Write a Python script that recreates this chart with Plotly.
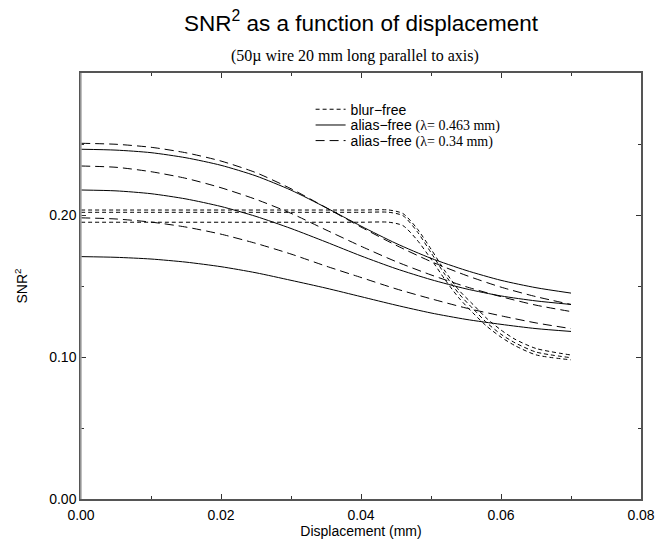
import plotly.graph_objects as go

# ---- data ----
x_alias = [0.0, 0.005, 0.01, 0.015, 0.02, 0.025, 0.03, 0.035, 0.04, 0.045, 0.05, 0.055, 0.06, 0.065, 0.07]

solid_1 = [0.2463, 0.2457, 0.2439, 0.2403, 0.2350, 0.2275, 0.2175, 0.2052, 0.1922, 0.1800, 0.1695, 0.1610, 0.1540, 0.1488, 0.1450]
solid_2 = [0.2176, 0.2170, 0.2150, 0.2113, 0.2060, 0.1990, 0.1905, 0.1810, 0.1712, 0.1622, 0.1545, 0.1480, 0.1430, 0.1395, 0.1370]
solid_3 = [0.1707, 0.1702, 0.1690, 0.1668, 0.1636, 0.1593, 0.1540, 0.1485, 0.1425, 0.1365, 0.1310, 0.1265, 0.1230, 0.1200, 0.1180]

dash_1 = [0.2505, 0.2498, 0.2477, 0.2438, 0.2380, 0.2298, 0.2185, 0.2052, 0.1915, 0.1787, 0.1672, 0.1575, 0.1492, 0.1425, 0.1370]
dash_2 = [0.2345, 0.2336, 0.2305, 0.2258, 0.2192, 0.2110, 0.2012, 0.1895, 0.1780, 0.1672, 0.1578, 0.1495, 0.1425, 0.1365, 0.1320]
dash_3 = [0.1980, 0.1972, 0.1950, 0.1915, 0.1865, 0.1800, 0.1725, 0.1640, 0.1560, 0.1480, 0.1410, 0.1345, 0.1290, 0.1240, 0.1200]

x_blur = [0.0, 0.01, 0.02, 0.03, 0.04, 0.044, 0.046, 0.048, 0.050, 0.052, 0.054, 0.056, 0.058, 0.060, 0.062, 0.065, 0.070]
blur_1 = [0.2035, 0.2035, 0.2035, 0.2035, 0.2035, 0.2035, 0.2010, 0.1905, 0.1760, 0.1605, 0.1470, 0.1370, 0.1270, 0.1190, 0.1125, 0.1060, 0.1014]
blur_2 = [0.2019, 0.2019, 0.2019, 0.2019, 0.2019, 0.2019, 0.1995, 0.1885, 0.1735, 0.1580, 0.1445, 0.1340, 0.1240, 0.1160, 0.1100, 0.1035, 0.0995]
blur_3 = [0.1949, 0.1949, 0.1949, 0.1949, 0.1949, 0.1949, 0.1925, 0.1825, 0.1690, 0.1545, 0.1415, 0.1310, 0.1215, 0.1140, 0.1080, 0.1015, 0.0980]

x_ticks = [0.00, 0.02, 0.04, 0.06, 0.08]
y_ticks = [0.00, 0.10, 0.20]

legend_names = [
    "blur\u2212free",
    "alias\u2212free <span style=\"font-family:'Liberation Serif'\">(\u03bb= 0.463 mm)</span>",
    "alias\u2212free <span style=\"font-family:'Liberation Serif'\">(\u03bb= 0.34 mm)</span>",
]

SANS = "Liberation Sans, Arial, sans-serif"
SERIF = "Liberation Serif, Times New Roman, serif"

fig = go.Figure()

def add(xs, ys, dash, name, show, legend):
    fig.add_trace(go.Scatter(
        x=xs, y=ys, mode="lines", name=name, showlegend=show,
        legendgroup=name, legend=legend, hoverinfo="skip",
        line=dict(color="black", width=1, dash=dash, shape="spline", smoothing=0.7),
    ))

for i, b in enumerate([blur_1, blur_2, blur_3]):
    add(x_blur, b, "4px,3px", legend_names[0], i == 0, "legend")
for i, s in enumerate([solid_1, solid_2, solid_3]):
    add(x_alias, s, "solid", legend_names[1], i == 0, "legend2")
for i, d in enumerate([dash_1, dash_2, dash_3]):
    add(x_alias, d, "9px,5px", legend_names[2], i == 0, "legend3")

axis_common = dict(
    showgrid=False, zeroline=False, showline=True, linecolor="#555555", linewidth=1.5,
    mirror="ticks", ticks="inside", ticklen=5, tickcolor="#333333", tickwidth=1,
    tickfont=dict(family=SANS, size=14, color="black"), automargin=False,
    minor=dict(ticks="inside", ticklen=3, tickcolor="#333333", tickwidth=1),
)

fig.update_xaxes(
    range=[0, 0.08], tickvals=x_ticks, tickformat=".2f",
    minor_dtick=0.01, ticklabelstandoff=2,
    title=dict(text="Displacement (mm)", font=dict(family=SANS, size=14, color="black"), standoff=4),
    **axis_common,
)
fig.update_yaxes(
    range=[0, 0.3], tickvals=y_ticks, tickformat=".2f",
    minor_dtick=0.05,
    title=dict(text="SNR<sup>2</sup>", font=dict(family=SANS, size=14, color="black"), standoff=18),
    **axis_common,
)

leg = dict(x=0.41, xanchor="left", yanchor="middle", bgcolor="rgba(0,0,0,0)",
           font=dict(family=SANS, size=14, color="black"), itemwidth=30)

fig.update_layout(
    width=669, height=542,
    margin=dict(l=81, r=28, t=73, b=43),
    paper_bgcolor="white", plot_bgcolor="white",
    title=dict(text="SNR<sup>2</sup> as a function of displacement", x=0.5, xref="paper",
               y=0.9576, yanchor="middle",
               font=dict(family=SANS, size=22.5, color="black")),
    legend=dict(y=0.914, **leg),
    legend2=dict(y=0.877, **leg),
    legend3=dict(y=0.8404, **leg),
    annotations=[dict(text="(50\u00b5 wire 20 mm long parallel to axis)", xref="paper", yref="paper",
                      x=0.489, y=1.0, yshift=17, showarrow=False, yanchor="middle",
                      font=dict(family=SERIF, size=16, color="black"))],
    shapes=[dict(type="line", xref="paper", yref="paper", x0=0, x1=0, y0=0, y1=1,
                 line=dict(color="#aaaaaa", width=1.5))],
)

fig.write_html("out.html", config={"displayModeBar": False},
               post_script="document.body.style.margin='0';")
